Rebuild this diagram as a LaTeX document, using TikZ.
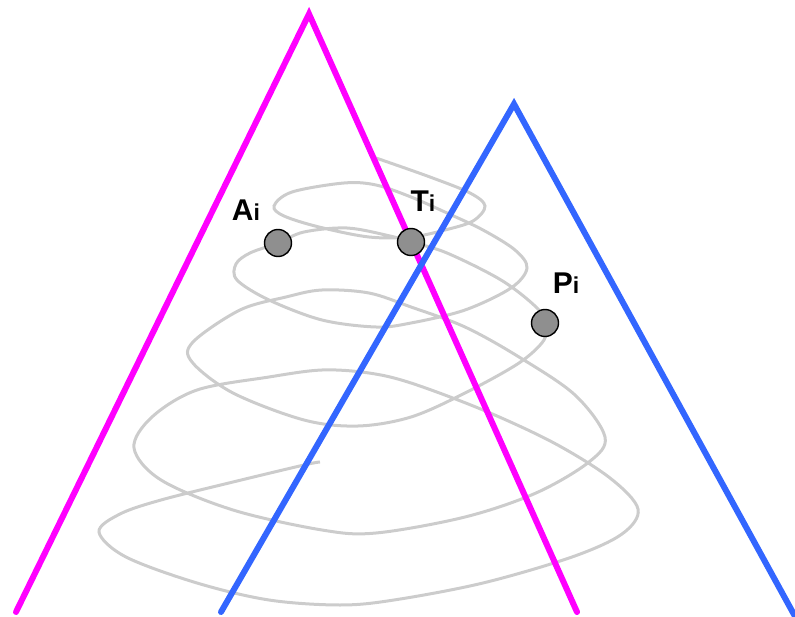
\documentclass[tikz,border=0pt]{standalone}
\usepackage{fontspec}
\setmainfont{Liberation Sans}
\definecolor{mag}{HTML}{FF00FF}
\definecolor{blu}{HTML}{3366FF}
\definecolor{spir}{HTML}{CCCCCC}
\definecolor{dotfill}{HTML}{8F8F8F}
\tikzset{
  cone/.style={line width=6pt, line cap=round, line join=miter},
  spiralline/.style={draw=spir, line width=3pt},
  pt/.style={circle, draw=black, line width=1.4pt, fill=dotfill, minimum size=27pt, inner sep=0pt},
  lbl/.style={font=\bfseries\fontsize{30}{33}\selectfont, inner sep=0pt, anchor=base},
}
\newcommand{\subi}{{\fontsize{23}{26}\selectfont i}}
\begin{document}
\begin{tikzpicture}[x=1pt,y=-1pt]
\useasboundingbox (0,0) rectangle (795,617);
% spiral
\draw[spiralline] plot[smooth, tension=0.55] coordinates {
(376,158) (430,177) (470,193) (485,206) (473,221) (445,230) (411,237) (369,237) (319,227) (284,216) (274,206) (292,192) (344,183) (376,185) (411,197) (447,213) (483,230) (515,250) (527,268) (511,288) (465,310) (411,323) (376,327) (322,320) (269,300) (237,280) (236,264) (250,253) (278,243) (304,232) (347,228) (390,236) (411,242) (447,253) (501,280) (536,307) (545,323) (544,340) (519,363) (465,393) (411,417) (358,426) (304,420) (233,393) (192,362) (193,342) (240,310) (286,297) (322,290) (369,293) (411,307) (465,327) (519,357) (575,395) (605,437) (589,462) (536,493) (465,517) (376,533) (322,530) (233,510) (161,480) (134,448) (152,417) (197,390) (269,377) (322,370) (369,373) (411,383) (483,410) (554,443) (610,478) (638,509) (622,534) (572,557) (483,583) (394,600) (340,605) (269,600) (197,583) (126,557) (99,532) (120,514) (161,500) (233,482) (304,465) (320,462)};
% cones
\coordinate (mA) at (309,14);
\coordinate (mL) at (16,612);
\coordinate (mR) at (577,612);
\coordinate (bA) at (514,104);
\coordinate (bL) at (221,612);
\coordinate (bR) at (797,620);
\draw[cone, draw=mag] (mL) -- (mA) -- (mR);
\draw[cone, draw=blu] (bL) -- (bA) -- (bR);
% points
\node[pt] (Ai) at (278,243) {};
\node[pt] (Ti) at (411,242) {};
\node[pt] (Pi) at (545,323) {};
\node[lbl] (lA) at (246,221) {A\subi};
\node[lbl] (lT) at (423,212) {T\subi};
\node[lbl] (lP) at (566,294) {P\subi};
\end{tikzpicture}
\end{document}
